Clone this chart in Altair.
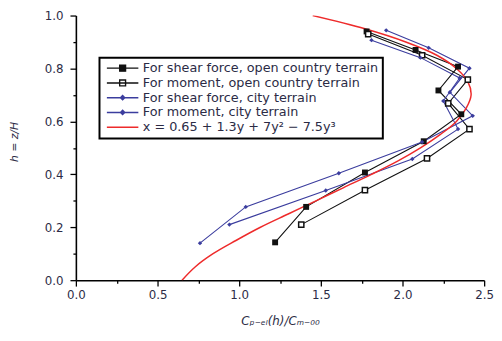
import altair as alt
import pandas as pd

# ---- data ----
names = [
    "For shear force, open country terrain",
    "For moment, open country terrain",
    "For shear force, city terrain",
    "For moment, city terrain",
    "x = 0.65 + 1.3y + 7y² − 7.5y³",
]

shear_open_x = [1.22, 1.41, 1.77, 2.13, 2.36, 2.22, 2.34, 2.08, 1.78]
shear_open_h = [0.143, 0.277, 0.407, 0.525, 0.627, 0.717, 0.807, 0.870, 0.940]

moment_open_x = [1.38, 1.77, 2.15, 2.41, 2.28, 2.40, 2.12, 1.79]
moment_open_h = [0.210, 0.340, 0.460, 0.571, 0.668, 0.758, 0.850, 0.930]

shear_city_x = [0.76, 1.04, 1.61, 2.12, 2.43, 2.29, 2.41, 2.16, 1.90]
shear_city_h = [0.140, 0.277, 0.404, 0.522, 0.621, 0.710, 0.801, 0.878, 0.944]

moment_city_x = [0.94, 1.53, 2.06, 2.34, 2.25, 2.35, 2.11, 1.81]
moment_city_h = [0.210, 0.339, 0.458, 0.571, 0.677, 0.764, 0.841, 0.907]

fit_x = [0.65, 0.73, 0.84, 0.98, 1.13, 1.30, 1.47, 1.64, 1.81, 1.97, 2.11,
         2.23, 2.33, 2.39, 2.42, 2.40, 2.33, 2.21, 2.02, 1.77, 1.45]
fit_h = [0.00, 0.05, 0.10, 0.15, 0.20, 0.25, 0.30, 0.35, 0.40, 0.45, 0.50,
         0.55, 0.60, 0.65, 0.70, 0.75, 0.80, 0.85, 0.90, 0.95, 1.00]

x_ticks = [0.0, 0.25, 0.5, 0.75, 1.0, 1.25, 1.5, 1.75, 2.0, 2.25, 2.5]
y_ticks = [0.0, 0.1, 0.2, 0.3, 0.4, 0.5, 0.6, 0.7, 0.8, 0.9, 1.0]

BLACK = "#111111"
BLUE = "#3b3d9e"
RED = "#ee2b2b"
TEXT = "#2b2b45"

rows = []
for name, xs, hs in zip(names,
                        [shear_open_x, moment_open_x, shear_city_x, moment_city_x, fit_x],
                        [shear_open_h, moment_open_h, shear_city_h, moment_city_h, fit_h]):
    for i, (x, h) in enumerate(zip(xs, hs)):
        rows.append({"series": name, "x": x, "h": h, "i": i})
df = pd.DataFrame(rows)

FONT = "DejaVu Sans"

xscale = alt.Scale(domain=[0, 2.5], nice=False)
yscale = alt.Scale(domain=[0, 1], nice=False)

x_axis = alt.Axis(
    values=x_ticks, format=".1f",
    labelExpr="round(datum.value*4) % 2 == 0 ? format(datum.value, '.1f') : ''",
    tickSize={"condition": {"test": "round(datum.value*4) % 2 != 0", "value": 3}, "value": 6},
    title="Cₚ₋ₑₗ(h)/Cₘ₋₀₀", titleFontStyle="italic", titleFont=FONT, titleFontSize=12,
    titleFontWeight="normal", titleColor=TEXT, titleY=41, titleBaseline="middle",
    labelFont=FONT, labelFontSize=12, labelColor=TEXT, labelPadding=4,
    domainColor="black", domainWidth=1.6, tickColor="black", tickWidth=1.3,
    grid=False, labelFlush=False,
)
y_axis = alt.Axis(
    values=y_ticks, format=".1f",
    labelExpr="round(datum.value*10) % 2 == 0 ? format(datum.value, '.1f') : ''",
    tickSize={"condition": {"test": "round(datum.value*10) % 2 != 0", "value": 3}, "value": 6},
    title="h = z/H", titleFontStyle="italic", titleFont=FONT, titleFontSize=11,
    titleFontWeight="normal", titleColor=TEXT, titleX=-62, titleY=128,
    titleAngle=-90, titleAlign="center", titleBaseline="middle",
    labelFont=FONT, labelFontSize=12, labelColor=TEXT, labelPadding=7,
    domainColor="black", domainWidth=1.6, tickColor="black", tickWidth=1.3,
    grid=False, labelFlush=False,
)

X = alt.X("x:Q", scale=xscale, axis=x_axis)
Y = alt.Y("h:Q", scale=yscale, axis=y_axis)

legend_paths = [
    "M-4,0H4M-0.75,-0.75H0.75V0.75H-0.75Z",
    "M-4,0H4M-0.75,-0.75H0.75V0.75H-0.75Z",
    "M-4,0H4M0,-0.55L0.55,0L0,0.55L-0.55,0Z",
    "M-4,0H4M0,-0.55L0.55,0L0,0.55L-0.55,0Z",
    "M-4,0H4",
]
leg = alt.Legend(
    title=None, orient="none", legendX=24, legendY=43,
    strokeColor="black", padding=4, fillColor="white",
    labelFont=FONT, labelFontSize=13, labelColor=TEXT, labelLimit=400,
    symbolSize=64, symbolStrokeWidth=1.4, rowPadding=1,
    symbolOffset=13, labelOffset=14,
)

color_scale = alt.Scale(domain=names, range=[BLACK, BLACK, BLUE, BLUE, RED])
fill_scale = alt.Scale(domain=names, range=[BLACK, "white", BLUE, BLUE, "transparent"])
shape_scale = alt.Scale(domain=names, range=legend_paths)

base = alt.Chart(df)

lines = base.transform_filter(alt.datum.series != names[4]).mark_line(
    strokeWidth=1.1, clip=True
).encode(
    x=X, y=Y,
    color=alt.Color("series:N", scale=color_scale, legend=leg, sort=names),
    order="i:Q",
)

fit_line = base.transform_filter(alt.datum.series == names[4]).mark_line(
    strokeWidth=1.5, color=RED, clip=True, interpolate="catmull-rom"
).encode(x=X, y=Y, order="i:Q")

pts_shear_open = base.transform_filter(alt.datum.series == names[0]).mark_point(
    shape="square", filled=True, color=BLACK, size=36, opacity=1
).encode(x=X, y=Y)
pts_moment_open = base.transform_filter(alt.datum.series == names[1]).mark_point(
    shape="square", fill="white", stroke=BLACK, strokeWidth=1.5, size=28, opacity=1
).encode(x=X, y=Y)
pts_city = base.transform_filter(
    (alt.datum.series == names[2]) | (alt.datum.series == names[3])
).mark_point(shape="diamond", filled=True, color=BLUE, size=20, opacity=1).encode(x=X, y=Y)

legend_layer = base.transform_filter("false").mark_point(opacity=1, strokeWidth=1.4).encode(
    x=X, y=Y,
    color=alt.Color("series:N", scale=color_scale, legend=leg, sort=names),
    fill=alt.Fill("series:N", scale=fill_scale, legend=leg, sort=names),
    shape=alt.Shape("series:N", scale=shape_scale, legend=leg, sort=names),
)

chart = alt.layer(lines, fit_line, pts_shear_open, pts_moment_open, pts_city, legend_layer).properties(
    width=415, height=269,
    padding={"left": 69, "top": 5, "right": 10, "bottom": 51},
    autosize=alt.AutoSizeParams(type="none"),
).configure_view(stroke=None).configure_legend(strokeWidth=2)

chart.save("out.html", embed_options={"renderer": "svg", "actions": False})
